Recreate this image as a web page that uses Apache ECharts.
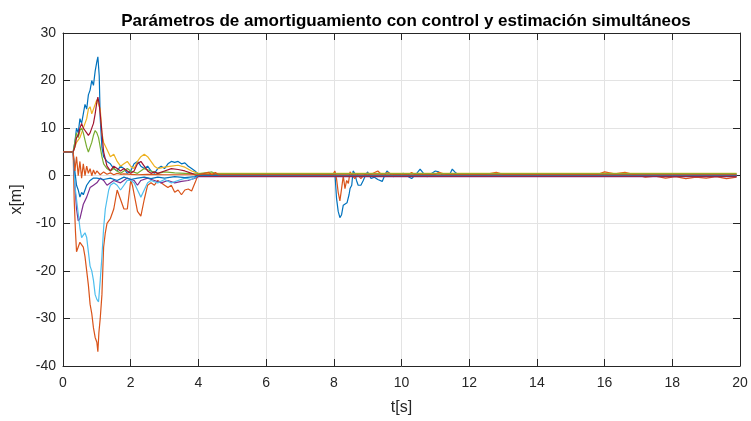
<!DOCTYPE html>
<html>
<head>
<meta charset="utf-8">
<script src="https://cdn.jsdelivr.net/npm/echarts@6/dist/echarts.min.js"></script>
<style>html,body{margin:0;padding:0;background:#fff}#c{width:751px;height:421px}</style>
</head>
<body>
<div id="c"></div>
<script>
// ---- data ----
const chartTitle = 'Parámetros de amortiguamiento con control y estimación simultáneos';
const xLabel = 't[s]';
const yLabel = 'x[m]';
const xTicks = [0, 2, 4, 6, 8, 10, 12, 14, 16, 18, 20];
const yTicks = [-40, -30, -20, -10, 0, 10, 20, 30];

// blue, large positive peak and disturbance at t=8
const tBlue1 = [0,0.3,0.35,0.4,0.45,0.5,0.55,0.6,0.65,0.7,0.75,0.8,0.85,0.9,0.95,1.0,1.03,1.07,1.1,1.15,1.2,1.3,1.4,1.5,1.6,1.7,1.8,1.9,2.0,2.1,2.2,2.3,2.4,2.5,2.6,2.7,2.8,2.9,3.0,3.1,3.2,3.3,3.4,3.5,3.6,3.7,3.8,3.9,4.0,
  8.0,8.03,8.08,8.13,8.18,8.23,8.28,8.33,8.39,8.45,8.48,8.53,8.57,8.62,8.67,8.72,8.8,8.87,8.95,9.0,9.1,9.2,9.3,9.43,9.5,9.57,9.65,9.75,9.85,9.95,10.05,10.15,10.3,10.45,10.55,10.65,10.75,10.85,11.0,11.1,11.2,11.4,11.5,11.6,11.8,11.95,12.1,12.3,12.7,19.9];
const vBlue1 = [5,5,7,10,9,12,11,13,15,14,17,18,20,19,22,24,25,21,12,6,4,3,2.5,1.5,1,2,1.5,0.5,1,2.5,3,2,1.5,2,1,0.5,1.5,2,1.5,2.5,3,2.8,3,2.5,2.7,2,1.5,1,0.3,
  0.2,0.8,-4.7,-7.5,-8.8,-8.2,-6.2,-6.5,-5.7,-4,-2.7,-2,1,0.5,-1,-2,-2,-1,0.3,0.8,-0.6,-0.3,-0.8,-1.2,0,1,0.5,-0.2,0.3,0.2,0.5,0,-0.6,0.5,1.4,0.5,-0.2,0.3,1,0.8,0.2,-0.1,1.4,0.6,-0.1,0.4,0.3,0.1,0.2,0.2];

// orange, large negative dip and disturbance at t=8
const tOrange1 = [0,0.3,0.33,0.37,0.4,0.45,0.5,0.55,0.6,0.65,0.7,0.75,0.8,0.85,0.9,0.95,1.0,1.03,1.06,1.1,1.15,1.2,1.25,1.3,1.4,1.5,1.6,1.7,1.8,1.9,2.0,2.05,2.1,2.2,2.3,2.4,2.5,2.6,2.7,2.8,2.9,3.0,3.1,3.2,3.3,3.4,3.5,3.6,3.7,3.8,3.9,4.0,
  7.98,8.03,8.08,8.13,8.18,8.23,8.28,8.33,8.38,8.43,8.48,8.55,8.62,8.7,8.8,8.9,9.0,9.1,9.3,9.4,9.6,9.8,10.0,10.2,10.3,10.4,10.6,11.0,11.1,11.3,12.5,12.8,13.0,15.8,16.0,16.3,16.6,16.9,17.2,17.5,17.8,18.1,18.4,18.7,19.0,19.3,19.6,19.9];
const vOrange1 = [5,5,-5,-12,-16,-15,-14,-14,-15,-17,-20,-23,-27,-29,-32,-34,-35,-37,-33,-30,-25,-15,-12,-10,-9,-7,-3,-5,-7,-7,-1,-2,-2,-7.5,-8.5,-5,-2,-1.5,-2,-1,-1.5,-2,-2.5,-2,-3.5,-3,-4,-3,-2.8,-3.2,-1.5,0.3,
  0.3,1,-0.6,-3.5,-5.3,-2.7,0,-2.7,-1,-1.6,0.8,0,-0.6,0.3,-0.6,0.2,0.5,0.3,1,0.3,0.6,0.2,0.4,0.2,0.7,0.2,0.3,0.3,0.7,0.3,0.3,0.7,0.3,0.3,0.8,0.4,0.7,0.2,-0.3,-0.1,-0.5,-0.2,-0.6,-0.3,-0.5,-0.2,-0.6,-0.3];

// yellow
const tYellow1 = [0,0.3,0.4,0.5,0.6,0.7,0.75,0.8,0.85,0.9,0.95,1.0,1.05,1.1,1.15,1.2,1.3,1.4,1.5,1.6,1.7,1.8,1.9,2.0,2.1,2.2,2.3,2.4,2.5,2.6,2.7,2.8,3.0,3.2,3.4,3.6,3.8,4.0,19.9];
const vYellow1 = [5,5,7,8,10,12,14,14.5,13,14,15,16,15,14,9,7,5.5,4,4.5,3,2,2.5,3,2,1.5,3,4,4.5,4,3,2,1.5,1.8,2,2.2,1.8,1,0.5,0.5];

// purple
const tPurple1 = [0,0.3,0.35,0.4,0.45,0.5,0.6,0.7,0.8,0.9,1.0,1.1,1.2,1.3,1.5,1.7,1.9,2.1,2.2,2.3,2.5,2.7,2.9,3.1,3.3,3.5,3.7,3.9,4.0,19.9];
const vPurple1 = [5,5,-2,-7,-9.5,-9,-6,-4.5,-2.5,-2,-1.5,-0.5,-1,-2,-1,-1.5,-0.5,-1,-2,-1,-0.5,-1,-1.5,-1,-1.5,-1.2,-1,-0.5,-0.2,-0.2];

// green
const tGreen1 = [0,0.3,0.35,0.4,0.45,0.5,0.55,0.6,0.65,0.7,0.75,0.8,0.85,0.9,0.95,1.0,1.05,1.1,1.15,1.2,1.3,1.4,1.5,1.6,1.7,1.8,1.9,2.0,2.2,2.4,2.6,2.8,3.0,3.3,3.6,3.9,4.0,4.4,4.5,4.6,19.9];
const vGreen1 = [5,5,7,9,8,9.5,10,9,7.5,6,5,6,7,8.5,9.5,9,8,6,4,2.5,1.5,1,1.5,1,0.5,1,1.5,1,0.5,1.5,1,0.5,0.8,0.6,0.5,0.4,0.4,0.8,0.4,0.4,0.4];

// light blue
const tLightBlue1 = [0,0.3,0.35,0.4,0.45,0.5,0.55,0.6,0.65,0.7,0.75,0.8,0.85,0.9,0.95,1.0,1.05,1.1,1.15,1.2,1.25,1.3,1.35,1.4,1.5,1.6,1.7,1.8,1.9,2.0,2.1,2.2,2.3,2.4,2.5,2.6,2.8,3.0,3.2,3.4,3.6,3.8,4.0,19.9];
const vLightBlue1 = [5,5,-2,-5,-8,-11,-13,-12.5,-12,-13,-16,-19,-20,-22,-25,-26,-26.5,-22,-17,-11,-7,-5,-3,-2,-1.5,-2,-3,-2,-1,-1,-1.5,-3,-4.5,-3,-1.5,-1,-1.5,-0.8,-1.5,-1,-0.5,-0.8,0,0];

// dark red
const tRed1 = [0,0.3,0.35,0.4,0.45,0.5,0.55,0.6,0.65,0.7,0.75,0.8,0.85,0.9,0.95,1.0,1.03,1.07,1.1,1.15,1.2,1.25,1.3,1.4,1.5,1.6,1.7,1.8,1.9,2.0,2.1,2.2,2.3,2.4,2.5,2.6,2.7,2.8,3.0,3.2,3.4,3.6,3.8,4.0,19.9];
const vRed1 = [5,5,6,8,8.5,10,11,10,9.5,9,8.5,9,10,11,13,15.5,16.5,15,13,9,5,3.5,2,1,2,1.5,1,1.5,1,0.5,1,2.5,3,2,1,0.5,0.8,0.5,1,1.5,1.3,1,0.5,-0.1,-0.1];

// blue, small negative dip
const tBlue2 = [0,0.3,0.35,0.4,0.45,0.5,0.55,0.6,0.7,0.8,0.9,1.0,1.2,1.4,1.6,1.8,2.0,2.2,2.4,2.6,2.8,3.0,3.3,3.6,3.9,4.0,19.9];
const vBlue2 = [5,5,1,-2,-3,-4.5,-3.5,-4,-2,-1,-0.5,-0.5,-0.8,-0.5,-1,-0.3,-0.8,-0.5,-0.3,-0.6,-0.3,-0.5,-0.2,-0.4,-0.2,0.1,0.1];

// orange, oscillating near zero
const tOrange2 = [0,0.3,0.35,0.4,0.45,0.5,0.55,0.6,0.65,0.7,0.75,0.8,0.85,0.9,0.95,1.0,1.1,1.2,1.3,1.4,1.5,1.6,1.7,1.8,2.0,2.2,2.5,3.0,3.5,4.0,4.3,4.4,4.5,4.6,4.7,19.9];
const vOrange2 = [5,5,1,4,0,3,-0.5,2.5,0,2,0.5,1.5,0,1.2,0.3,1,0.2,0.8,0.3,0.6,0.2,0.5,0.3,0.4,0.3,0.2,0.3,0.2,0.2,0.2,0.7,0.2,0.7,0.2,0.2,0.2];

const seriesDefs = [
  ['#0072BD', tBlue1, vBlue1],
  ['#D95319', tOrange1, vOrange1],
  ['#EDB120', tYellow1, vYellow1],
  ['#7E2F8E', tPurple1, vPurple1],
  ['#77AC30', tGreen1, vGreen1],
  ['#4DBEEE', tLightBlue1, vLightBlue1],
  ['#A2142F', tRed1, vRed1],
  ['#0072BD', tBlue2, vBlue2],
  ['#D95319', tOrange2, vOrange2]
];

const chart = echarts.init(document.getElementById('c'), null, {renderer: 'canvas'});
const font = '"Liberation Sans", Arial, Helvetica, sans-serif';
const axisCol = '#262626';
const gridCol = '#e3e3e3';

function xAx(pos, show) {
  return {
    type: 'value', position: pos, min: xTicks[0], max: xTicks[xTicks.length-1], interval: 2,
    name: show ? xLabel : '', nameLocation: 'middle', nameGap: 34,
    nameTextStyle: {fontFamily: font, fontSize: 16, color: axisCol},
    axisLine: {show: true, onZero: false, lineStyle: {color: axisCol, width: 1}},
    axisTick: {show: true, inside: true, length: 7, lineStyle: {color: axisCol}},
    axisLabel: {show: show, fontFamily: font, fontSize: 14, color: axisCol, margin: 10},
    splitLine: {show: show, lineStyle: {color: gridCol, width: 1}}
  };
}
function yAx(pos, show) {
  return {
    type: 'value', position: pos, min: yTicks[0], max: yTicks[yTicks.length-1], interval: 10,
    name: show ? yLabel : '', nameLocation: 'middle', nameGap: 33,
    nameTextStyle: {fontFamily: font, fontSize: 16, color: axisCol},
    axisLine: {show: true, onZero: false, lineStyle: {color: axisCol, width: 1}},
    axisTick: {show: true, inside: true, length: 7, lineStyle: {color: axisCol}},
    axisLabel: {show: show, fontFamily: font, fontSize: 14, color: axisCol, margin: 7},
    splitLine: {show: show, lineStyle: {color: gridCol, width: 1}}
  };
}

chart.setOption({
  animation: false,
  backgroundColor: '#ffffff',
  title: {
    text: chartTitle, left: 401, top: 8, textAlign: 'center',
    textStyle: {fontFamily: font, fontSize: 17, fontWeight: 'bold', color: '#000'}
  },
  grid: {left: 63, right: 11, top: 33, bottom: 54, containLabel: false},
  xAxis: [xAx('bottom', true), xAx('top', false)],
  yAxis: [yAx('left', true), yAx('right', false)],
  series: seriesDefs.map(([col, ts, vs]) => ({
    type: 'line', xAxisIndex: 0, yAxisIndex: 0, showSymbol: false, symbol: 'none',
    lineStyle: {color: col, width: 1.2}, itemStyle: {color: col},
    data: ts.map((t, i) => [t, vs[i]])
  }))
});
</script>
</body>
</html>
